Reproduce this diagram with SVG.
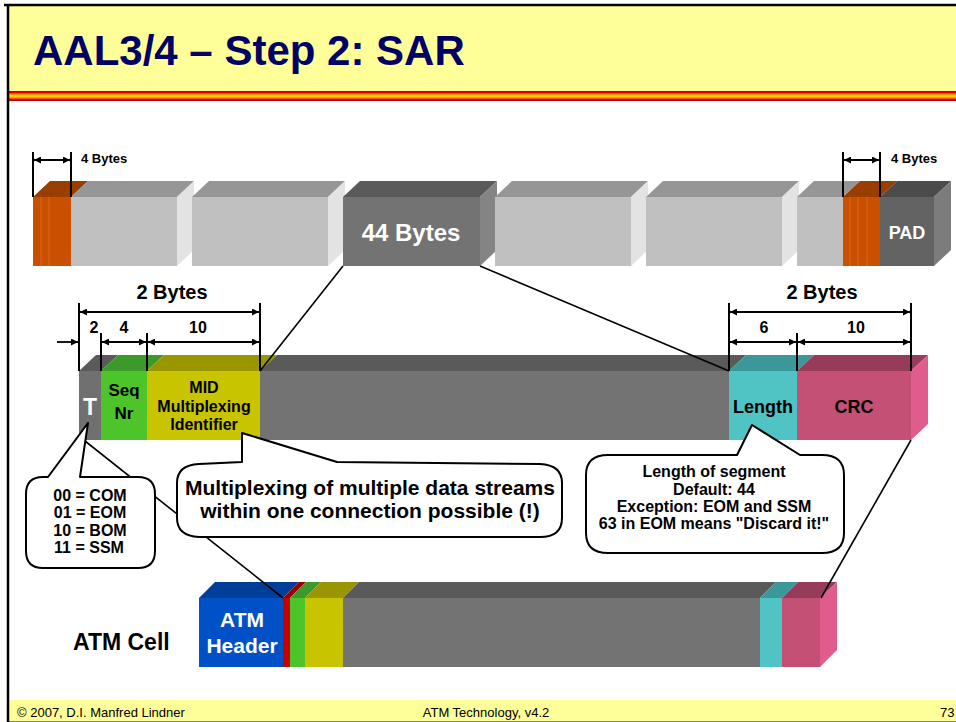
<svg xmlns="http://www.w3.org/2000/svg" width="956" height="722" viewBox="0 0 956 722">
<defs>
<linearGradient id="stripe" x1="0" y1="0" x2="0" y2="1">
<stop offset="0" stop-color="#990000"/>
<stop offset="0.15" stop-color="#ee0000"/>
<stop offset="0.35" stop-color="#ff9900"/>
<stop offset="0.5" stop-color="#ffee00"/>
<stop offset="0.65" stop-color="#ff9900"/>
<stop offset="0.85" stop-color="#ee0000"/>
<stop offset="1" stop-color="#990000"/>
</linearGradient>
<marker id="ah" viewBox="0 0 10 10" refX="10" refY="5" markerWidth="8" markerHeight="7" markerUnits="userSpaceOnUse" orient="auto-start-reverse"><path d="M0,0 L10,5 L0,10 z" fill="#000"/></marker>
</defs>
<style>
.t{font-family:"Liberation Sans",Arial,sans-serif;font-weight:bold}
.r{font-family:"Liberation Sans",Arial,sans-serif}
.m{text-anchor:middle}
.w{fill:#fff}
.dim{stroke:#000;stroke-width:2;fill:none}
.arr{stroke:#000;stroke-width:1.8;fill:none;marker-start:url(#ah);marker-end:url(#ah)}
.arr1{stroke:#000;stroke-width:1.8;fill:none;marker-end:url(#ah)}
.conn{stroke:#000;stroke-width:1.6;fill:none}
.call{fill:#fff;stroke:#000;stroke-width:2;stroke-linejoin:round}
.lf{fill:#c0c0c0}.lt{fill:#969696}.ls{fill:#e3e3e3}
.of{fill:#c85000}.ot{fill:#9a3d00}
.os{stroke:#e2691f;stroke-width:1}
.gf{fill:#737373}.gt{fill:#5a5a5a}
</style>
<rect width="956" height="722" fill="#fff"/>

<g id="frame">
<rect x="9" y="6" width="947" height="85" fill="#ffff99"/>
<rect x="9" y="91" width="947" height="10" fill="url(#stripe)"/>
<rect x="9" y="700" width="947" height="22" fill="#ffff99"/>
<line x1="9" y1="721.5" x2="956" y2="721.5" stroke="#8a8a40" stroke-width="1"/>
<line x1="4" y1="5" x2="956" y2="5" stroke="#000" stroke-width="2.5"/>
<line x1="8" y1="4" x2="8" y2="722" stroke="#000" stroke-width="2.5"/>
<text class="t" x="33" y="65" font-size="42" fill="#000066">AAL3/4 – Step 2: SAR</text>
<text class="r" x="17" y="717" font-size="13">© 2007, D.I. Manfred Lindner</text>
<text class="r m" x="486" y="717" font-size="13">ATM Technology, v4.2</text>
<text class="r" x="940" y="717" font-size="13">73</text>
</g>

<g id="frame-bar">
<!-- box 1 -->
<polygon class="ot" points="33,197 50,181 88,181 71,197"/>
<rect class="of" x="33" y="197" width="38" height="69"/>
<line class="os" x1="41" y1="197" x2="41" y2="266"/>
<line class="os" x1="49" y1="197" x2="49" y2="266"/>
<polygon class="lt" points="71,197 88,181 194,181 177,197"/>
<rect class="lf" x="71" y="197" width="106" height="69"/>
<polygon class="ls" points="177,197 194,181 194,250 177,266"/>
<!-- box 2 -->
<polygon class="lt" points="192,197 209,181 345,181 328,197"/>
<rect class="lf" x="192" y="197" width="136" height="69"/>
<polygon class="ls" points="328,197 345,181 345,250 328,266"/>
<!-- box 3 -->
<polygon class="gt" points="343,197 360,181 497,181 480,197"/>
<rect class="gf" x="343" y="197" width="137" height="69"/>
<polygon fill="#848484" points="480,197 497,181 497,250 480,266"/>
<text class="t m w" x="411" y="241" font-size="24">44 Bytes</text>
<!-- box 4 -->
<polygon class="lt" points="495,197 512,181 648,181 631,197"/>
<rect class="lf" x="495" y="197" width="136" height="69"/>
<polygon class="ls" points="631,197 648,181 648,250 631,266"/>
<!-- box 5 -->
<polygon class="lt" points="646,197 663,181 799,181 782,197"/>
<rect class="lf" x="646" y="197" width="136" height="69"/>
<polygon class="ls" points="782,197 799,181 799,250 782,266"/>
<!-- box 6 -->
<polygon class="lt" points="797,197 814,181 860,181 843,197"/>
<rect class="lf" x="797" y="197" width="46" height="69"/>
<polygon class="ot" points="843,197 860,181 897,181 880,197"/>
<rect class="of" x="843" y="197" width="37" height="69"/>
<line class="os" x1="850" y1="197" x2="850" y2="266"/>
<line class="os" x1="858" y1="197" x2="858" y2="266"/>
<line class="os" x1="867" y1="197" x2="867" y2="266"/>
<polygon fill="#4b4b4b" points="880,197 897,181 951,181 934,197"/>
<rect fill="#636363" x="880" y="197" width="54" height="69"/>
<polygon fill="#7c7c7c" points="934,197 951,181 951,250 934,266"/>
<text class="t m w" x="907" y="239" font-size="18">PAD</text>
</g>

<g id="segment-bar">
<polygon class="gt" points="79,371 96,355 118,355 101,371"/>
<rect fill="#707070" x="79" y="371" width="22" height="69"/>
<polygon fill="#3d9a2a" points="101,371 118,355 164,355 147,371"/>
<rect fill="#4cc42a" x="101" y="371" width="46" height="69"/>
<polygon fill="#9a9600" points="147,371 164,355 277,355 260,371"/>
<rect fill="#c8c400" x="147" y="371" width="113" height="69"/>
<polygon class="gt" points="260,371 277,355 746,355 729,371"/>
<rect class="gf" x="260" y="371" width="469" height="69"/>
<polygon fill="#3c9898" points="729,371 746,355 814,355 797,371"/>
<rect fill="#50c4c4" x="729" y="371" width="68" height="69"/>
<polygon fill="#963c5a" points="797,371 814,355 928,355 911,371"/>
<rect fill="#c45076" x="797" y="371" width="114" height="69"/>
<polygon fill="#e05c8c" points="911,371 928,355 928,424 911,440"/>
<text class="t m w" x="90" y="415" font-size="23">T</text>
<text class="t m" x="124" y="396" font-size="17">Seq</text>
<text class="t m" x="124" y="419" font-size="17">Nr</text>
<text class="t m" x="204" y="393" font-size="16">MID</text>
<text class="t m" x="204" y="412" font-size="16">Multiplexing</text>
<text class="t m" x="204" y="430" font-size="16">Identifier</text>
<text class="t m" x="763" y="413" font-size="18">Length</text>
<text class="t m" x="854" y="413" font-size="18">CRC</text>
</g>

<g id="atm-cell">
<polygon fill="#003f99" points="199,598 215,582 299,582 283,598"/>
<rect fill="#0050c8" x="199" y="598" width="84" height="69"/>
<polygon fill="#990000" points="283,598 299,582 306,582 290,598"/>
<rect fill="#c80000" x="283" y="598" width="7" height="69"/>
<polygon fill="#3d9a2a" points="290,598 306,582 321,582 305,598"/>
<rect fill="#4cc42a" x="290" y="598" width="15" height="69"/>
<polygon fill="#9a9600" points="305,598 321,582 359,582 343,598"/>
<rect fill="#c8c400" x="305" y="598" width="38" height="69"/>
<polygon class="gt" points="343,598 359,582 776,582 760,598"/>
<rect class="gf" x="343" y="598" width="417" height="69"/>
<polygon fill="#3c9898" points="760,598 776,582 798,582 782,598"/>
<rect fill="#50c4c4" x="760" y="598" width="22" height="69"/>
<polygon fill="#963c5a" points="782,598 798,582 837,582 820,598"/>
<rect fill="#c45076" x="782" y="598" width="38" height="69"/>
<polygon fill="#e05c8c" points="820,598 837,582 837,650 820,667"/>
<text class="t m w" x="242" y="627" font-size="21">ATM</text>
<text class="t m w" x="242" y="653" font-size="21">Header</text>
<text class="t" x="73" y="650" font-size="23">ATM Cell</text>
</g>

<g id="dimensions">
<line class="dim" x1="33" y1="152" x2="33" y2="197"/>
<line class="dim" x1="71" y1="152" x2="71" y2="197"/>
<line class="arr" x1="34" y1="160" x2="70" y2="160"/>
<text class="t" x="81" y="163" font-size="13">4 Bytes</text>
<line class="dim" x1="843" y1="152" x2="843" y2="197"/>
<line class="dim" x1="880" y1="152" x2="880" y2="197"/>
<line class="arr" x1="844" y1="160" x2="879" y2="160"/>
<text class="t" x="891" y="163" font-size="13">4 Bytes</text>

<line class="dim" x1="79" y1="303" x2="79" y2="371"/>
<line class="dim" x1="101" y1="333" x2="101" y2="371"/>
<line class="dim" x1="147" y1="333" x2="147" y2="371"/>
<line class="dim" x1="260" y1="303" x2="260" y2="371"/>
<line class="arr" x1="80" y1="312" x2="259" y2="312"/>
<line class="arr1" x1="57" y1="342" x2="78" y2="342"/>
<line class="arr" x1="102" y1="342" x2="146" y2="342"/>
<line class="arr" x1="148" y1="342" x2="259" y2="342"/>
<text class="t m" x="172" y="299" font-size="20">2 Bytes</text>
<text class="t m" x="94" y="333" font-size="16">2</text>
<text class="t m" x="124" y="333" font-size="16">4</text>
<text class="t m" x="198" y="333" font-size="16">10</text>

<line class="dim" x1="729" y1="303" x2="729" y2="371"/>
<line class="dim" x1="797" y1="333" x2="797" y2="371"/>
<line class="dim" x1="911" y1="303" x2="911" y2="371"/>
<line class="arr" x1="730" y1="312" x2="910" y2="312"/>
<line class="arr" x1="730" y1="342" x2="796" y2="342"/>
<line class="arr" x1="798" y1="342" x2="910" y2="342"/>
<text class="t m" x="822" y="299" font-size="20">2 Bytes</text>
<text class="t m" x="764" y="333" font-size="16">6</text>
<text class="t m" x="856" y="333" font-size="16">10</text>
</g>

<g id="connectors">
<line class="conn" x1="343" y1="266" x2="260" y2="371"/>
<line class="conn" x1="480" y1="266" x2="729" y2="371"/>
<line class="conn" x1="85" y1="441" x2="283" y2="598"/>
<line class="conn" x1="911" y1="440" x2="821" y2="598"/>
</g>

<g id="callout-type">
<path class="call" d="M43,477 L48,477 L88,423 L80,477 L138,477 Q155,477 155,494 L155,551 Q155,568 138,568 L43,568 Q26,568 26,551 L26,494 Q26,477 43,477 Z"/>
<text class="t m" x="90" y="501" font-size="16">00 = COM</text>
<text class="t m" x="90" y="518" font-size="16">01 = EOM</text>
<text class="t m" x="90" y="536" font-size="16">10 = BOM</text>
<text class="t m" x="89" y="553" font-size="16">11 = SSM</text>
</g>

<g id="callout-mid">
<path class="call" d="M199,464 L242,462 L242,433 L337,462 L540,464 Q562,465 562,483 L562,518 Q562,537 540,537 L199,537 Q177,536 177,518 L177,483 Q177,465 199,464 Z"/>
<text class="t m" x="370" y="495" font-size="21">Multiplexing of multiple data streams</text>
<text class="t m" x="370" y="518" font-size="21">within one connection possible (!)</text>
</g>

<g id="callout-length">
<path class="call" d="M608,455 L737,455 L752,425 L800,455 L822,455 Q844,455 844,475 L844,533 Q844,553 822,553 L608,553 Q586,553 586,533 L586,475 Q586,455 608,455 Z"/>
<text class="t m" x="714" y="477" font-size="16">Length of segment</text>
<text class="t m" x="714" y="495" font-size="16">Default: 44</text>
<text class="t m" x="714" y="512" font-size="16">Exception: EOM and SSM</text>
<text class="t m" x="714" y="529" font-size="16">63 in EOM means "Discard it!"</text>
</g>
</svg>
